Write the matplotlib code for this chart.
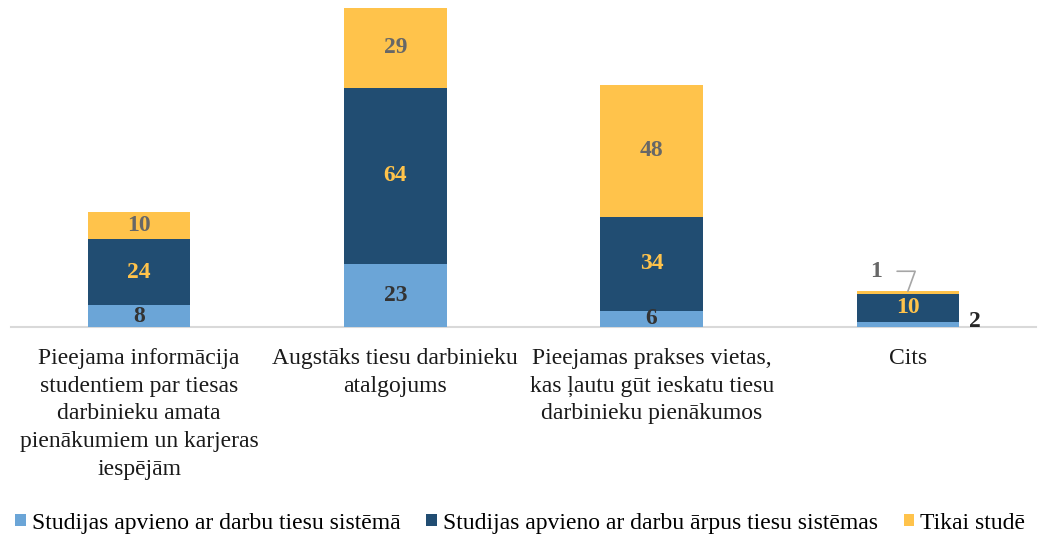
import matplotlib.pyplot as plt
import numpy as np

plt.rcParams["font.family"] = ["Liberation Serif", "DejaVu Serif"]

categories = [
    "Pieejama informācija\nstudentiem par tiesas\ndarbinieku amata\npienākumiem un karjeras\niespējām",
    "Augstāks tiesu darbinieku\natalgojums",
    "Pieejamas prakses vietas,\nkas ļautu gūt ieskatu tiesu\ndarbinieku pienākumos",
    "Cits",
]
series_names = [
    "Studijas apvieno ar darbu tiesu sistēmā",
    "Studijas apvieno ar darbu ārpus tiesu sistēmas",
    "Tikai studē",
]
in_court = [8, 23, 6, 2]
outside_court = [24, 64, 34, 10]
only_study = [10, 29, 48, 1]

colors = ["#6ba5d7", "#214d72", "#ffc34b"]
label_colors = ["#333333", "#ffc34b", "#676767"]

fig = plt.figure(figsize=(10.4, 5.35), dpi=100)
ax = fig.add_axes([11 / 1040, 1 - 327 / 535, 1025 / 1040, 319 / 535])

x = np.arange(len(categories))
width = 0.4
bottom = np.zeros(len(categories))
values = [in_court, outside_court, only_study]
for vals, col, lcol, name in zip(values, colors, label_colors, series_names):
    vals = np.array(vals, dtype=float)
    ax.bar(x, vals, width, bottom=bottom, color=col, label=name, zorder=2)
    for i, v in enumerate(vals):
        if i == 3 and v < 5:
            continue
        ax.text(x[i], bottom[i] + v / 2, f"{v:.0f}", ha="center", va="center",
                color=lcol, fontsize=17, fontweight="bold")
    bottom += vals

# small segments of the last bar get their labels outside
ax.annotate(f"{in_court[3]}", xy=(x[3] + width / 2, in_court[3] / 2),
            xytext=(16, 3), textcoords="offset pixels", ha="center", va="center",
            color="#262626", fontsize=17, fontweight="bold")
ax.annotate(f"{only_study[3]}", xy=(x[3], bottom[3]),
            xytext=(-32, 20), textcoords="offset pixels", ha="center", va="center",
            color="#676767", fontsize=17, fontweight="bold",
            arrowprops=dict(arrowstyle="-", color="#a6a6a6", lw=1.2,
                            shrinkA=9, shrinkB=0,
                            connectionstyle="angle,angleA=0,angleB=70,rad=0"))

ax.set_xlim(-0.5, len(categories) - 0.5)
ax.set_ylim(0, 116)
ax.set_xticks(x)
ax.set_xticklabels(categories, fontsize=17, color="#1a1a1a", linespacing=1.42, va="top")
ax.tick_params(axis="x", length=0, pad=15)
ax.set_yticks([])
for side in ["top", "right", "left"]:
    ax.spines[side].set_visible(False)
ax.spines["bottom"].set_color("#d9d9d9")
ax.spines["bottom"].set_linewidth(1.5)
ax.spines["bottom"].set_zorder(1)

fig.legend(loc="lower left", bbox_to_anchor=(-0.006, -0.037), ncol=3, frameon=False,
           fontsize=17, handlelength=0.45, handleheight=0.45, handletextpad=0.25,
           columnspacing=1.1)

fig.savefig("out.png", dpi=100)
